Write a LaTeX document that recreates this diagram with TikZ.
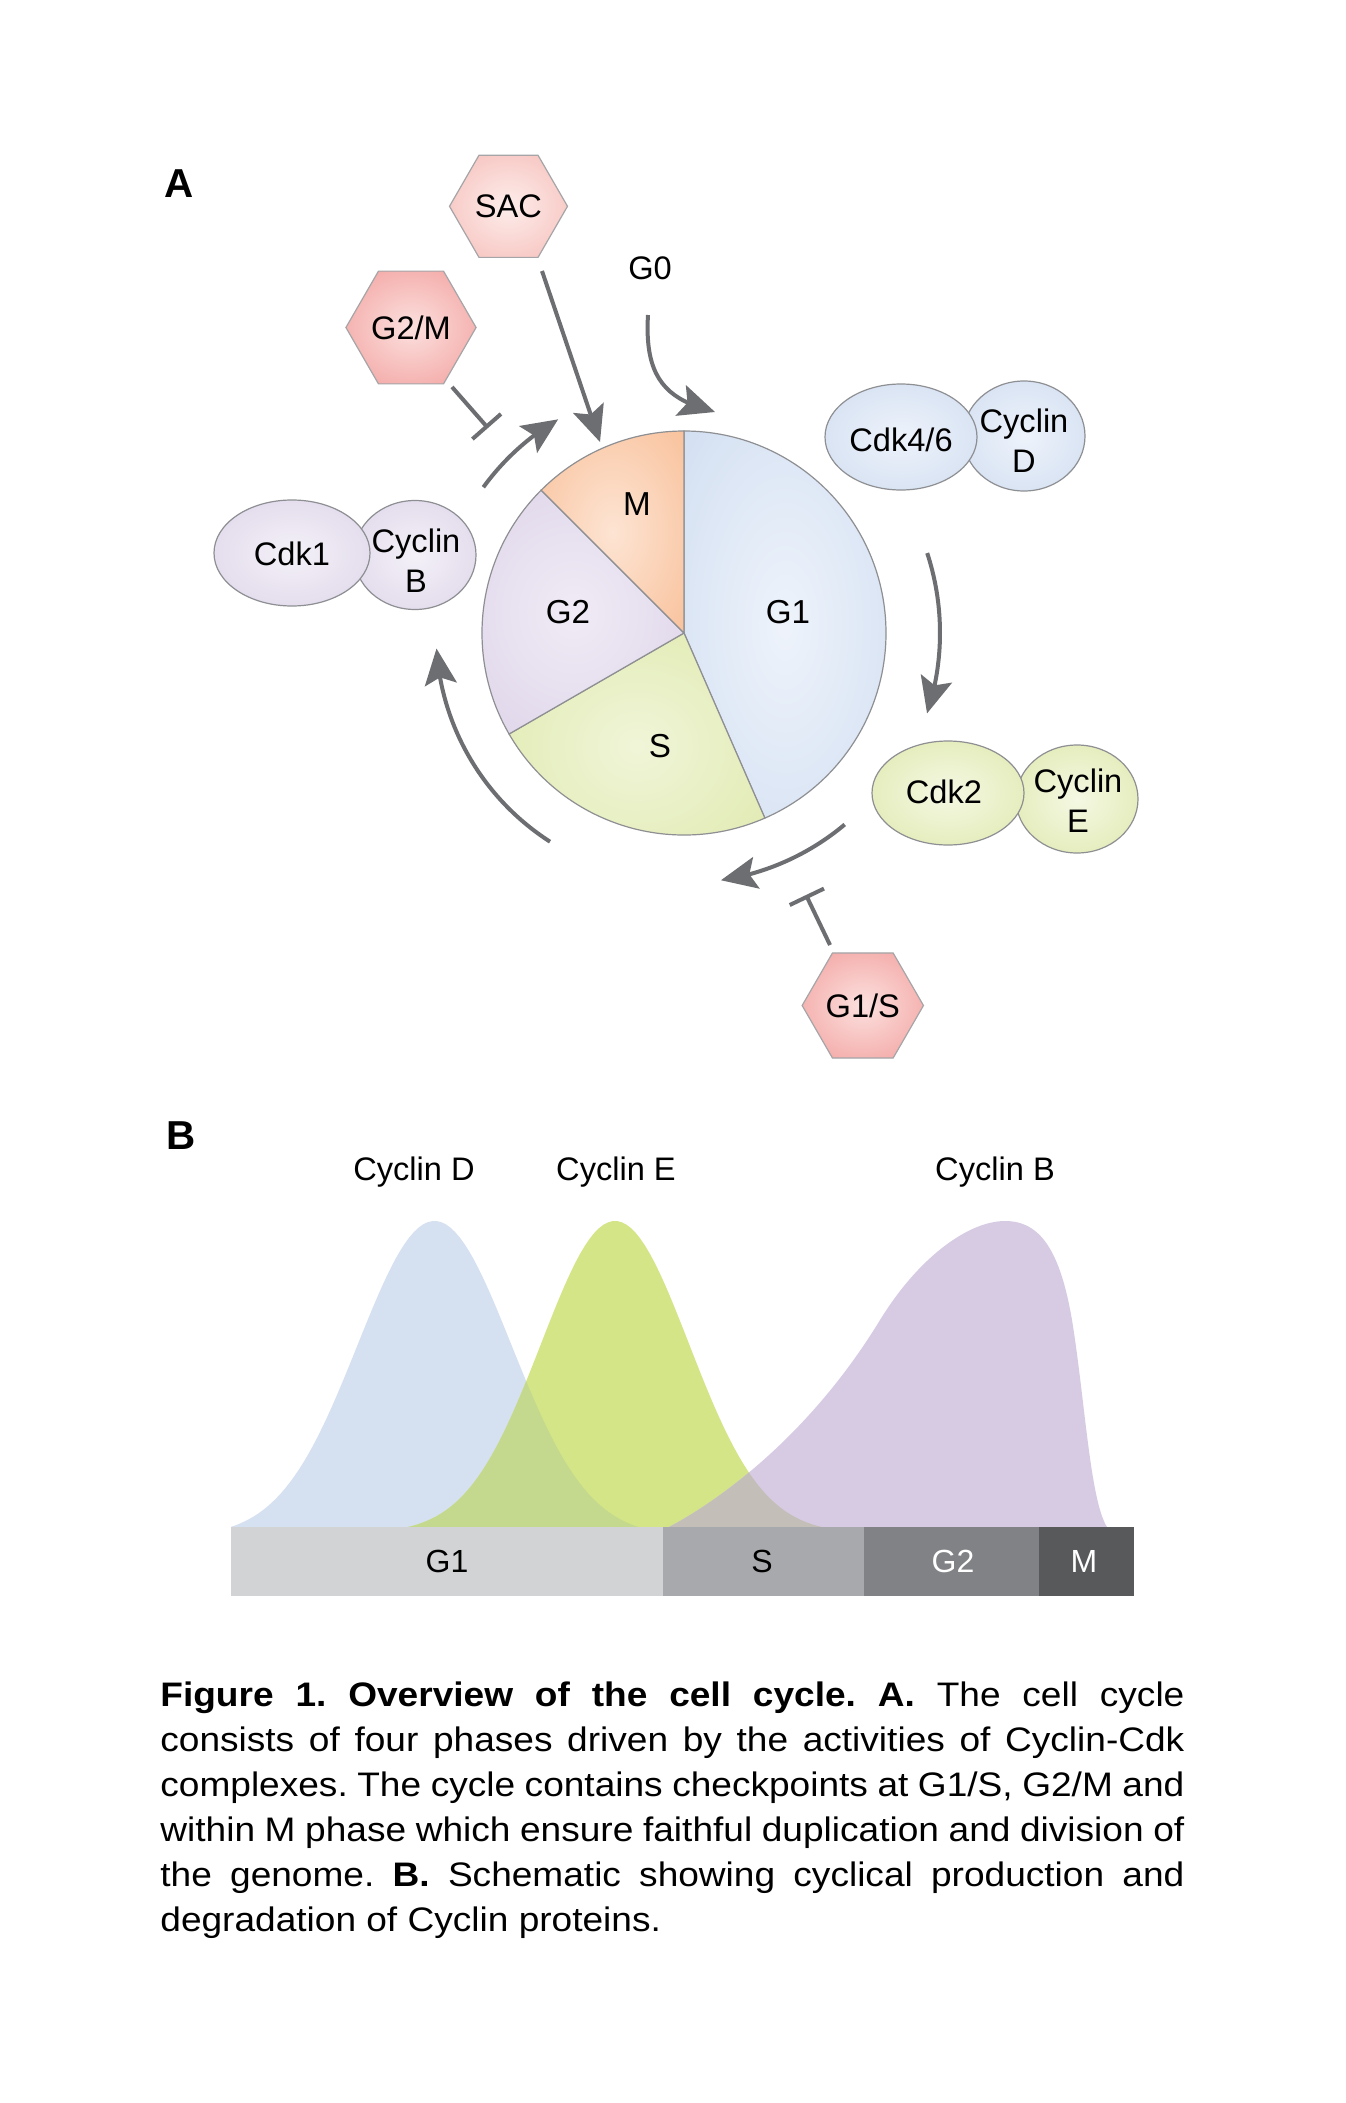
\documentclass[tikz,border=0pt]{standalone}
\usepackage{fontspec}
\setmainfont{Liberation Sans}
\newfontfamily\capfont[FakeStretch=1.09]{Liberation Sans}
\usetikzlibrary{shapes.geometric,arrows.meta,bending}

\definecolor{arrgray}{HTML}{6D6E71}
\definecolor{edgegray}{HTML}{8E8F92}
\definecolor{g1out}{HTML}{C8D8EE}\definecolor{g1in}{HTML}{EEF3FB}
\definecolor{sOut}{HTML}{D9E59E}\definecolor{sIn}{HTML}{F0F5D8}
\definecolor{g2out}{HTML}{D6CBE3}\definecolor{g2in}{HTML}{F0EBF6}
\definecolor{mOut}{HTML}{F7B486}\definecolor{mIn}{HTML}{FDE4D3}
\definecolor{blOut}{HTML}{C5D5EC}\definecolor{blIn}{HTML}{EEF3FB}
\definecolor{grOut}{HTML}{D6E39A}\definecolor{grIn}{HTML}{F5F8E3}
\definecolor{puOut}{HTML}{D5CAE3}\definecolor{puIn}{HTML}{F4F1F8}
\definecolor{rdOut}{HTML}{EF8784}\definecolor{rdIn}{HTML}{FBE0DE}
\definecolor{pkOut}{HTML}{F3ABA5}\definecolor{pkIn}{HTML}{FDEDEB}
\definecolor{cD}{HTML}{D5E0F1}
\definecolor{cE}{HTML}{D4E587}
\definecolor{cB}{HTML}{D7CBE3}
\definecolor{cDE}{HTML}{C4D88E}
\definecolor{cEB}{HTML}{C3BEB8}
\definecolor{barG1}{HTML}{D1D3D4}
\definecolor{barS}{HTML}{A7A9AC}
\definecolor{barG2}{HTML}{808285}
\definecolor{barM}{HTML}{58595B}

\pgfdeclareradialshading{shG1}{\pgfpointorigin}{color(0bp)=(g1in); color(50bp)=(g1out)}
\pgfdeclareradialshading{shS}{\pgfpointorigin}{color(0bp)=(sIn); color(50bp)=(sOut)}
\pgfdeclareradialshading{shG2}{\pgfpointorigin}{color(0bp)=(g2in); color(50bp)=(g2out)}
\pgfdeclareradialshading{shM}{\pgfpointorigin}{color(0bp)=(mIn); color(50bp)=(mOut)}
\pgfdeclareradialshading{shBl}{\pgfpointorigin}{color(0bp)=(blIn); color(50bp)=(blOut)}
\pgfdeclareradialshading{shGr}{\pgfpointorigin}{color(0bp)=(grIn); color(50bp)=(grOut)}
\pgfdeclareradialshading{shPu}{\pgfpointorigin}{color(0bp)=(puIn); color(50bp)=(puOut)}
\pgfdeclareradialshading{shRd}{\pgfpointorigin}{color(0bp)=(rdIn); color(50bp)=(rdOut)}
\pgfdeclareradialshading{shPk}{\pgfpointorigin}{color(0bp)=(pkIn); color(50bp)=(pkOut)}

\begin{document}
\begin{tikzpicture}[x=0.5pt,y=-0.5pt,
  lbl/.style={font=\fontsize{16.3}{20}\selectfont, inner sep=0pt},
  phase/.style={font=\fontsize{16.6}{20}\selectfont, inner sep=0pt},
  sector/.style={shade, draw=edgegray, line width=0.6pt},
  hexa/.style={regular polygon, regular polygon sides=6, minimum size=59pt,
    inner sep=0pt, shade, draw=edgegray!80, line width=0.6pt,
    font=\fontsize{16.3}{20}\selectfont},
  ell/.style={ellipse, inner sep=0pt, shade, draw=edgegray, line width=0.6pt},
  arr/.style={draw=arrgray, line width=2pt,
    -{Stealth[length=18pt, width=16pt, inset=3.5pt]}},
  inh/.style={draw=arrgray, line width=2pt, -{Bar[width=19pt]}},
  capt/.style={font=\capfont\fontsize{17}{20}\selectfont\frenchspacing, inner sep=0pt, anchor=base west},
  panel/.style={font=\bfseries\fontsize{20.2}{24}\selectfont, inner sep=0pt, anchor=base west},
  barlbl/.style={font=\fontsize{16}{20}\selectfont, inner sep=0pt},
  declare function={gD(\t)=exp(-0.5*((\t-434.5)/77)*((\t-434.5)/77));
                    gE(\t)=exp(-0.5*((\t-615)/74)*((\t-615)/74));}
]
\useasboundingbox (0,0) rectangle (1345,2103);
\fill[white] (0,0) rectangle (1345,2103);

% ---------------- Panel A ----------------
\node[panel] (labA) at (164,198) {A};

% pie
\coordinate (cc) at (684,633);
\path[sector, shading=shG1] (cc) -- ([shift={(684,633)}]-90:202) arc[start angle=-90, end angle=66.4, radius=202] -- cycle;
\path[sector, shading=shS] (cc) -- ([shift={(684,633)}]66.4:202) arc[start angle=66.4, end angle=150, radius=202] -- cycle;
\path[sector, shading=shG2] (cc) -- ([shift={(684,633)}]150:202) arc[start angle=150, end angle=225, radius=202] -- cycle;
\path[sector, shading=shM] (cc) -- ([shift={(684,633)}]225:202) arc[start angle=225, end angle=270, radius=202] -- cycle;

\node[phase] (pG1) at (788,612.5) {G1};
\node[phase] (pS) at (660,746.5) {S};
\node[phase] (pG2) at (568,612) {G2};
\node[phase] (pM) at (637,504) {M};

% complexes
\node[ell, shading=shBl, minimum width=61pt, minimum height=55pt] (cycD) at (1024,436) {};
\node[ell, shading=shBl, minimum width=76pt, minimum height=53pt] (cdk46) at (901,437) {};
\node[lbl] (cdk46t) at (901,440) {Cdk4/6};
\node[lbl, align=center] (cycDt) at (1024,441) {Cyclin\\D};

\node[ell, shading=shGr, minimum width=61pt, minimum height=54pt] (cycE) at (1077,799) {};
\node[ell, shading=shGr, minimum width=76pt, minimum height=52pt] (cdk2) at (948,793) {};
\node[lbl] (cdk2t) at (944,792) {Cdk2};
\node[lbl, align=center] (cycEt) at (1078,801) {Cyclin\\E};

\node[ell, shading=shPu, minimum width=61pt, minimum height=54.5pt] (cycB) at (415,555) {};
\node[ell, shading=shPu, minimum width=78pt, minimum height=53pt] (cdk1) at (292,553) {};
\node[lbl] (cdk1t) at (292,554) {Cdk1};
\node[lbl, align=center] (cycBt) at (416,561) {Cyclin\\B};

% checkpoints
\node[hexa, shading=shPk] (sac) at (508.5,206.3) {SAC};
\node[hexa, shading=shRd] (g2m) at (411,327.5) {G2/M};
\node[hexa, shading=shRd] (g1s) at (862.8,1005.5) {G1/S};
\node[lbl] (g0) at (650,268) {G0};

% cycle arrows
\coordinate (a1s) at ([shift={(684,633)}]-144:248);
\draw[arr] (a1s) arc[start angle=-144, end angle=-120.5, radius=248];
\coordinate (a2s) at ([shift={(684,633)}]-18.2:256);
\draw[arr] (a2s) arc[start angle=-18.2, end angle=18.3, radius=256];
\coordinate (a3s) at ([shift={(684,633)}]50:250);
\draw[arr] (a3s) arc[start angle=50, end angle=81.5, radius=250];
\coordinate (a4s) at ([shift={(684,633)}]122.7:248);
\draw[arr] (a4s) arc[start angle=122.7, end angle=176.4, radius=248];

% G0 arrow
\coordinate (g0s) at (648,315);
\coordinate (g0e) at (715,412);
\draw[arr] (g0s) .. controls (644,380) and (668,400) .. (g0e);

% SAC arrow
\coordinate (sacs) at (542,271);
\coordinate (sace) at (600,442);
\draw[arr] (sacs) -- (sace);

% inhibitions
\coordinate (g2ms) at (452,387);
\coordinate (g2me) at (488,428);
\draw[inh] (g2ms) -- (g2me);
\coordinate (g1ss) at (830,945);
\coordinate (g1se) at (806,895);
\draw[inh] (g1ss) -- (g1se);

% ---------------- Panel B ----------------
\node[panel] (labB) at (166,1149) {B};

\def\curveD{plot[domain=230.5:638.5, samples=90] (\x,{1527-306*max(0,(gD(\x)-0.03)/0.97)})}
\def\curveE{plot[domain=408:822, samples=90] (\x,{1527-306*max(0,(gE(\x)-0.02)/0.98)})}
\def\curveB{(669,1527) .. controls (720,1500) and (810,1435) .. (880,1320)
  .. controls (920,1255) and (970,1221) .. (1005,1221)
  .. controls (1040,1221) and (1060,1250) .. (1072,1320)
  .. controls (1085,1400) and (1090,1500) .. (1107,1527)}

\fill[cD] \curveD -- cycle;
\fill[cE] \curveE -- cycle;
\fill[cB] \curveB -- cycle;
\begin{scope}
  \clip \curveD -- cycle;
  \fill[cDE] \curveE -- cycle;
\end{scope}
\begin{scope}
  \clip \curveE -- cycle;
  \fill[cEB] \curveB -- cycle;
\end{scope}

\node[lbl, anchor=base] (lD) at (414,1180) {Cyclin D};
\node[lbl, anchor=base] (lE) at (616,1180) {Cyclin E};
\node[lbl, anchor=base] (lB) at (995,1180) {Cyclin B};

\fill[barG1] (231,1527) rectangle (663,1596);
\fill[barS] (663,1527) rectangle (864,1596);
\fill[barG2] (864,1527) rectangle (1039,1596);
\fill[barM] (1039,1527) rectangle (1134,1596);
\node[barlbl] (bG1) at (447,1561) {G1};
\node[barlbl] (bS) at (762,1561) {S};
\node[barlbl, text=white] (bG2) at (953,1561) {G2};
\node[barlbl, text=white] (bM) at (1084,1561) {M};

% ---------------- Caption ----------------
\node[capt] (cap1) at (160,1706) {\makebox[512pt][s]{\textbf{Figure 1. Overview of the cell cycle. A.} The cell cycle}};
\node[capt] (cap2) at (160,1751) {\makebox[512pt][s]{consists of four phases driven by the activities of Cyclin-Cdk}};
\node[capt] (cap3) at (160,1796) {\makebox[512pt][s]{complexes. The cycle contains checkpoints at G1/S, G2/M and}};
\node[capt] (cap4) at (160,1841) {\makebox[512pt][s]{within M phase which ensure faithful duplication and division of}};
\node[capt] (cap5) at (160,1886) {\makebox[512pt][s]{the genome. \textbf{B.} Schematic showing cyclical production and}};
\node[capt] (cap6) at (160,1931) {degradation of Cyclin proteins.};
\end{tikzpicture}
\end{document}
